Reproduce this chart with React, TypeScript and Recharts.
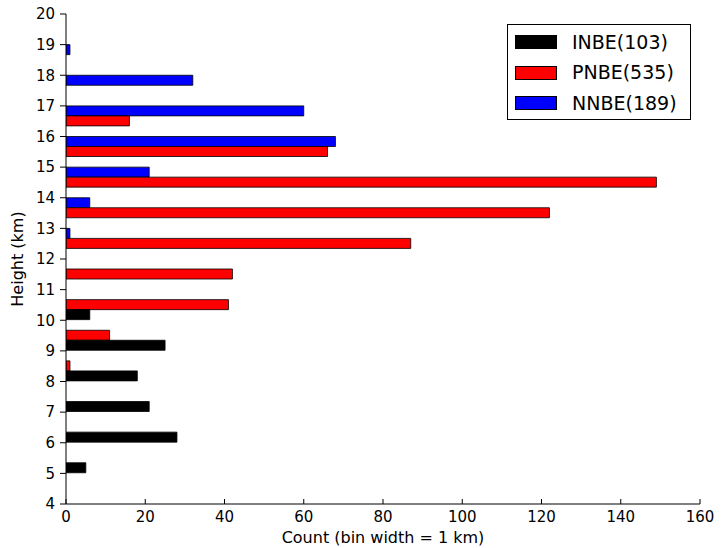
import React from "react";
import { BarChart, Bar, XAxis, YAxis, Legend, Label } from "recharts";

// 1 km bins from 4 to 20 km, bars drawn at the bin middles
const binMids = [4.5, 5.5, 6.5, 7.5, 8.5, 9.5, 10.5, 11.5, 12.5, 13.5, 14.5, 15.5, 16.5, 17.5, 18.5, 19.5];
const inbeCounts = [0, 5, 28, 21, 18, 25, 6, 0, 0, 0, 0, 0, 0, 0, 0, 0];
const pnbeCounts = [0, 0, 0, 0, 1, 11, 41, 42, 87, 122, 149, 66, 16, 0, 0, 0];
const nnbeCounts = [0, 0, 0, 0, 0, 0, 0, 0, 1, 6, 21, 68, 60, 32, 1, 0];

const heightTicks = [4, 5, 6, 7, 8, 9, 10, 11, 12, 13, 14, 15, 16, 17, 18, 19, 20];
const countTicks = [0, 20, 40, 60, 80, 100, 120, 140, 160];

const series = [
  { key: "INBE", label: "INBE(103)", color: "#000000" },
  { key: "PNBE", label: "PNBE(535)", color: "#ff0000" },
  { key: "NNBE", label: "NNBE(189)", color: "#0000ff" },
];

const data = binMids.map((mid, i) => ({
  mid,
  INBE: inbeCounts[i],
  PNBE: pnbeCounts[i],
  NNBE: nnbeCounts[i],
}));

const font = "DejaVu Sans";
const tickStyle = { fill: "#000", fontSize: 15, fontFamily: font };

const LegendBox = () => (
  <div
    style={{
      width: 184,
      height: 96,
      boxSizing: "border-box",
      border: "1px solid #000",
      background: "#fff",
      paddingTop: 2,
      fontFamily: font,
    }}
  >
    {series.map((s) => (
      <div key={s.key} style={{ display: "flex", alignItems: "center", height: 30.5 }}>
        <div
          style={{
            width: 42,
            height: 14,
            marginLeft: 7,
            boxSizing: "border-box",
            border: "1px solid #000",
            background: s.color,
          }}
        />
        <span style={{ marginLeft: 15, fontSize: 19, color: "#000", lineHeight: 1 }}>{s.label}</span>
      </div>
    ))}
  </div>
);

const App: React.FC = () => {
  return (
    <div style={{ position: "absolute", left: 0, top: 0, background: "#fff" }}>
      <BarChart
        width={726}
        height={548}
        data={data}
        layout="vertical"
        margin={{ top: 14, right: 26, left: 0, bottom: 0 }}
        barCategoryGap={0}
        barGap={0}
        style={{ fontFamily: font }}
      >
        <XAxis
          type="number"
          domain={[0, 160]}
          ticks={countTicks}
          interval={0}
          height={44}
          tickSize={-5}
          tickMargin={12}
          tick={tickStyle}
          axisLine={{ stroke: "#000" }}
          tickLine={{ stroke: "#000" }}
          allowDataOverflow
        >
          <Label
            value="Count (bin width = 1 km)"
            position="insideBottom"
            offset={5}
            style={{ fontSize: 16, fill: "#000", fontFamily: font }}
          />
        </XAxis>
        <XAxis
          xAxisId="top"
          orientation="top"
          type="number"
          domain={[0, 160]}
          ticks={countTicks}
          interval={0}
          height={0}
          tick={false}
          tickSize={-5}
          axisLine={{ stroke: "#000" }}
          tickLine={{ stroke: "#000" }}
          allowDataOverflow
        />
        <YAxis
          type="number"
          dataKey="mid"
          domain={[4, 20]}
          ticks={heightTicks}
          interval={0}
          reversed
          width={66}
          tickSize={6}
          tickMargin={5}
          tick={tickStyle}
          axisLine={{ stroke: "#000" }}
          tickLine={{ stroke: "#000" }}
          allowDataOverflow
        >
          <Label
            value="Height (km)"
            angle={-90}
            position="insideLeft"
            offset={17}
            style={{ fontSize: 16, fill: "#000", fontFamily: font, textAnchor: "middle" }}
          />
        </YAxis>
        <YAxis
          yAxisId="right"
          orientation="right"
          type="number"
          domain={[4, 20]}
          width={0}
          tick={false}
          tickLine={false}
          axisLine={{ stroke: "#000" }}
          allowDataOverflow
        />
        <Legend
          layout="vertical"
          align="center"
          verticalAlign="middle"
          content={() => <LegendBox />}
          wrapperStyle={{ top: 24, left: 507, width: 184 }}
        />
        {/* top to bottom within a bin: NNBE, PNBE, INBE */}
        <Bar dataKey="NNBE" fill="#0000ff" stroke="#000" strokeWidth={0.8} isAnimationActive={false} />
        <Bar dataKey="PNBE" fill="#ff0000" stroke="#000" strokeWidth={0.8} isAnimationActive={false} />
        <Bar dataKey="INBE" fill="#000000" stroke="#000" strokeWidth={0.8} isAnimationActive={false} />
      </BarChart>
    </div>
  );
};

export default App;
